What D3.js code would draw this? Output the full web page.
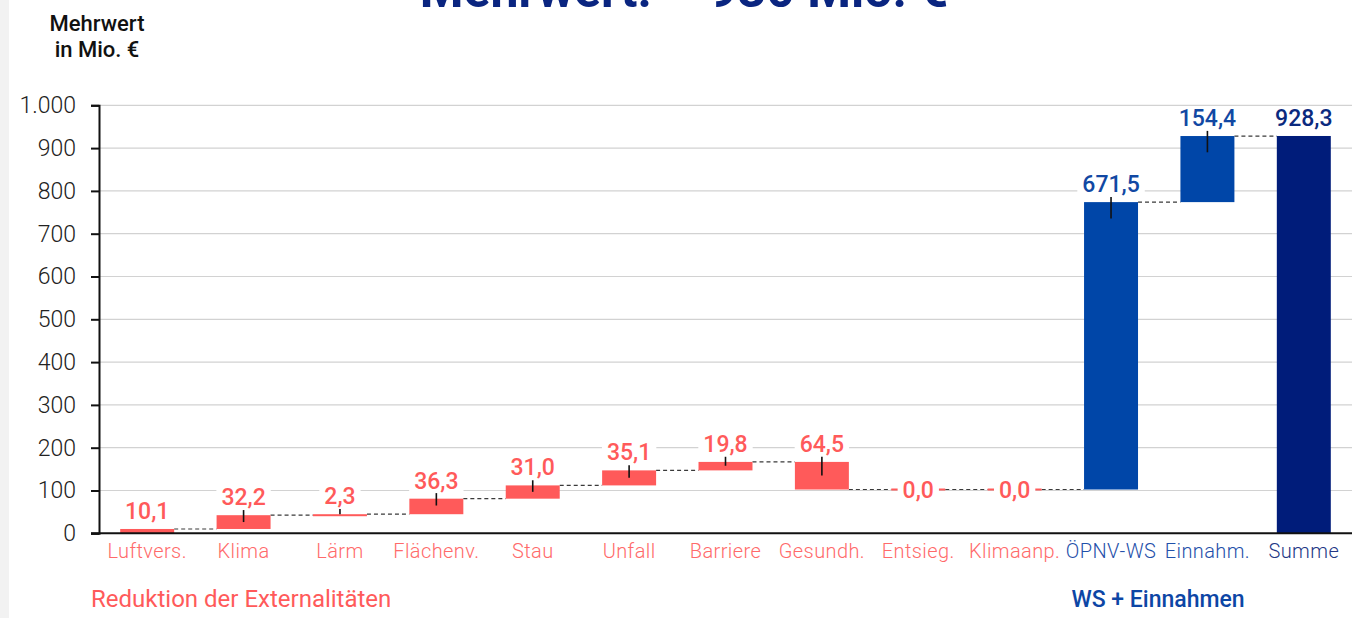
<!DOCTYPE html>
<html lang="de">
<head>
<meta charset="utf-8">
<script src="https://cdn.jsdelivr.net/npm/d3@7"></script>
<style>
  html, body { margin: 0; padding: 0; background: #ffffff; }
  svg { display: block; font-family: Roboto, "Noto Sans", sans-serif; }
</style>
</head>
<body>
<svg id="chart" width="1356" height="618"></svg>
<script>
// Waterfall: Mehrwert in Mio. €
const categories = ["Luftvers.", "Klima", "Lärm", "Flächenv.", "Stau", "Unfall", "Barriere",
                    "Gesundh.", "Entsieg.", "Klimaanp.", "ÖPNV-WS", "Einnahm.", "Summe"];
// signed change per step; the last entry is the total
const values   = [10.1, 32.2, 2.3, 36.3, 31.0, 35.1, 19.8, -64.5, 0.0, 0.0, 671.5, 154.4, 928.3];
const kinds    = ["delta", "delta", "delta", "delta", "delta", "delta", "delta",
                  "delta", "delta", "delta", "delta", "delta", "total"];
const groups   = ["ext", "ext", "ext", "ext", "ext", "ext", "ext",
                  "ext", "ext", "ext", "ws", "ws", "sum"];
// uncertainty ranges around the upper end of each bar
const errUp    = [0, 12, 12, 13, 12, 12, 12, 12, 0, 0, 12, 12, 0];
const errDown  = [0, 16, 0, 16, 15, 17, 9, 32, 0, 0, 38, 38, 0];
const yTicks   = [0, 100, 200, 300, 400, 500, 600, 700, 800, 900, 1000];

const title      = "Mehrwert: ~ 930 Mio. €";
const yTitle     = ["Mehrwert", "in Mio. €"];
const groupTexts = [
  { text: "Reduktion der Externalitäten", cls: "ext" },
  { text: "WS + Einnahmen", cls: "ws" }
];

const barColor  = { ext: "#ff5a5a", ws: "#0046a8", sum: "#001c7a" };
const textColor = { ext: "#ff5a5a", ws: "#1148a3", sum: "#0b2a7e" };
const tickColor = { ext: "#ff6a6a", ws: "#1f50aa", sum: "#233785" };

const de = d3.formatLocale({ decimal: ",", thousands: ".", grouping: [3], currency: ["", " €"] });
const fmtTick  = de.format(",");
const fmtValue = de.format(",.1f");

// build running start/end levels
let level = 0;
const rows = categories.map((c, i) => {
  let start, end;
  if (kinds[i] === "total") { start = 0; end = values[i]; }
  else { start = level; end = level + values[i]; }
  level = end;
  return { cat: c, value: values[i], start, end, group: groups[i],
           up: errUp[i], down: errDown[i] };
});

const svg = d3.select("#chart");
const W = 1356, H = 618;
const plot = { left: 99, right: 1352, top: 105.3, bottom: 533.3 };

// grey strip on the far left
svg.append("rect").attr("x", 0).attr("y", 0).attr("width", 9).attr("height", H).attr("fill", "#f2f2f2");

const x = d3.scaleBand().domain(categories).range([plot.left, plot.right]).paddingInner(0.44).paddingOuter(0.22);
const y = d3.scaleLinear().domain([0, 1000]).range([plot.bottom, plot.top]);

// grid
svg.append("g").selectAll("line").data(yTicks.filter(d => d > 0)).join("line")
  .attr("x1", plot.left).attr("x2", plot.right)
  .attr("y1", d => y(d)).attr("y2", d => y(d))
  .attr("stroke", "#d2d2d2").attr("stroke-width", 1.2);

// y axis
const yAxis = svg.append("g").attr("transform", `translate(${plot.left},0)`)
  .call(d3.axisLeft(y).tickValues(yTicks).tickFormat(fmtTick).tickSize(8).tickPadding(15));
yAxis.select(".domain").attr("stroke", "#111").attr("stroke-width", 2);
yAxis.selectAll(".tick line").attr("stroke", "#111").attr("stroke-width", 2);
yAxis.selectAll(".tick text").attr("font-family", "Roboto").attr("font-size", 23)
  .attr("font-weight", 300).attr("fill", "#222");

// connectors between consecutive bars
const links = rows.slice(0, -1).map((r, i) => ({ from: r, to: rows[i + 1] }));
svg.append("g").selectAll("line").data(links).join("line")
  .attr("x1", d => x(d.from.cat) + x.bandwidth())
  .attr("x2", d => x(d.to.cat))
  .attr("y1", d => y(d.from.end)).attr("y2", d => y(d.from.end))
  .attr("stroke", "#3a3a3a").attr("stroke-width", 1.2).attr("stroke-dasharray", "4,3");

// bars
svg.append("g").selectAll("rect").data(rows).join("rect")
  .attr("x", d => x(d.cat))
  .attr("width", x.bandwidth())
  .attr("y", d => Math.min(y(d.start), y(d.end)) - (d.value === 0 ? 1 : 0))
  .attr("height", d => Math.max(Math.abs(y(d.start) - y(d.end)), 2))
  .attr("fill", d => barColor[d.group]);

// error bars
svg.append("g").selectAll("line").data(rows.filter(d => d.up > 0 || d.down > 0)).join("line")
  .attr("x1", d => x(d.cat) + x.bandwidth() / 2)
  .attr("x2", d => x(d.cat) + x.bandwidth() / 2)
  .attr("y1", d => y(Math.max(d.start, d.end) + d.up))
  .attr("y2", d => y(Math.max(d.start, d.end) - d.down))
  .attr("stroke", "#111").attr("stroke-width", 1.6);

// x axis line
svg.append("line").attr("x1", plot.left - 8).attr("x2", plot.right)
  .attr("y1", plot.bottom).attr("y2", plot.bottom)
  .attr("stroke", "#111").attr("stroke-width", 2);

// value labels with white backing
const labels = svg.append("g").selectAll("g").data(rows).join("g");
labels.append("rect").attr("class", "bg").attr("fill", "#ffffff");
labels.append("text")
  .attr("x", d => x(d.cat) + x.bandwidth() / 2)
  .attr("y", d => d.value === 0 ? y(d.end) : y(Math.max(d.start, d.end)) - 10)
  .attr("dy", d => d.value === 0 ? "0.36em" : 0)
  .attr("text-anchor", "middle")
  .attr("font-size", 23).attr("font-weight", 500)
  .attr("fill", d => textColor[d.group])
  .text(d => fmtValue(Math.abs(d.value)));
labels.each(function () {
  const g = d3.select(this);
  const b = g.select("text").node().getBBox();
  g.select("rect.bg").attr("x", b.x - 5).attr("y", b.y + 3).attr("width", b.width + 10).attr("height", b.height - 5);
});

// category labels
svg.append("g").selectAll("text").data(rows).join("text")
  .attr("x", d => x(d.cat) + x.bandwidth() / 2)
  .attr("y", 558)
  .attr("text-anchor", "middle")
  .attr("font-size", 20).attr("font-weight", 300).attr("letter-spacing", 0.4)
  .attr("fill", d => tickColor[d.group])
  .text(d => d.cat);

// group captions
svg.append("text").attr("x", 91).attr("y", 607).attr("text-anchor", "start")
  .attr("font-size", 24).attr("font-weight", 400).attr("fill", "#ff5a5a")
  .text(groupTexts[0].text);
svg.append("text").attr("x", 1158).attr("y", 607).attr("text-anchor", "middle")
  .attr("font-size", 23).attr("font-weight", 500).attr("fill", "#0d46a5")
  .text(groupTexts[1].text);

// y axis title
svg.append("text").attr("text-anchor", "middle").attr("font-size", 22).attr("font-weight", 500)
  .attr("fill", "#111")
  .selectAll("tspan").data(yTitle).join("tspan")
  .attr("x", 97).attr("y", (d, i) => 31 + i * 26).text(d => d);

// headline, mostly above the visible area
svg.append("text").attr("x", 684).attr("y", 7).attr("text-anchor", "middle")
  .attr("font-size", 50).attr("font-weight", 700).attr("fill", "#0a2580")
  .text(title);
</script>
</body>
</html>
